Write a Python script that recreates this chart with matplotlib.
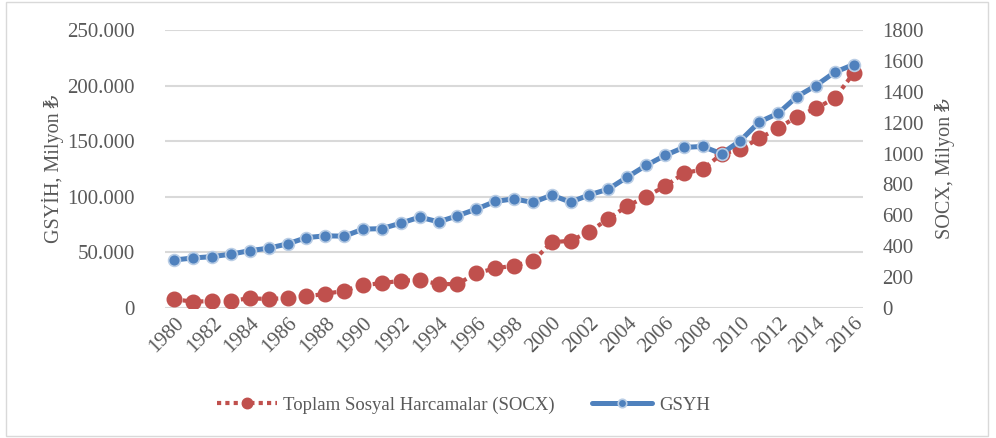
import numpy as np
import matplotlib.pyplot as plt
from matplotlib.patches import Rectangle
from matplotlib.ticker import FuncFormatter, MultipleLocator

plt.rcParams['font.family'] = ['Liberation Serif', 'DejaVu Serif', 'DejaVu Sans']

years = np.arange(1980, 2017)
gsyh = [43200, 45000, 46200, 48400, 51600, 53800, 57700, 63300, 64900, 64600,
        70900, 71400, 76300, 81700, 77500, 82900, 88900, 95800, 98200, 94900,
        101500, 95200, 101800, 106900, 117700, 128200, 137200, 144400, 145300, 138700,
        150500, 167300, 175000, 190100, 200000, 212000, 218900]
socx = [56, 41, 45, 47, 63, 58, 65, 76, 91, 112,
        149, 160, 177, 181, 155, 155, 225, 257, 274, 304,
        425, 436, 494, 578, 660, 721, 788, 872, 898, 997,
        1028, 1099, 1164, 1239, 1293, 1358, 1520]

red = '#c0504d'
blue = '#4f81bd'
gray = '#595959'

fig = plt.figure(figsize=(9.96, 4.38), dpi=100)
pos = [165 / 996, 1 - 308 / 438, 698 / 996, 278 / 438]
ax = fig.add_axes(pos)
ax2 = ax.twinx()
ax3 = fig.add_axes(pos, sharex=ax, sharey=ax)
ax3.axis('off')

l_red, = ax2.plot(years, socx, color=red, lw=3, linestyle=(0, (1, 1)),
                  marker='o', markersize=10.5, markerfacecolor=red, markeredgecolor=red,
                  label='Toplam Sosyal Harcamalar (SOCX)')
l_blue, = ax3.plot(years, gsyh, color=blue, lw=3.6, solid_capstyle='round',
                   marker='o', markersize=8.5, markerfacecolor=blue,
                   markeredgecolor='#b9cde5', markeredgewidth=1.2, label='GSYH')

ax.set_xlim(1979.5, 2016.5)
ax.set_ylim(0, 250000)
ax2.set_ylim(0, 1800)
ax.yaxis.set_major_locator(MultipleLocator(50000))
ax2.yaxis.set_major_locator(MultipleLocator(200))
ax.yaxis.set_major_formatter(FuncFormatter(lambda v, p: f'{int(v):,}'.replace(',', '.')))
ax.set_xticks(years[::2])
ax.set_xticklabels([str(y) for y in years[::2]], rotation=45, ha='right',
                   rotation_mode='anchor')

ax.grid(axis='y', color='#d9d9d9', lw=1.5)
for a in (ax, ax2):
    for s in a.spines.values():
        s.set_visible(False)
    a.tick_params(length=0, labelsize=15, labelcolor=gray)
ax.tick_params(axis='y', pad=22)
ax2.tick_params(axis='y', pad=14)
ax.tick_params(axis='x', pad=4)

ax.set_ylabel('GSYİH, Milyon ₺', fontsize=14.5, color=gray, labelpad=2)
ax2.set_ylabel('SOCX, Milyon ₺', fontsize=14.5, color=gray, rotation=90, labelpad=8)

fig.legend(handles=[l_red, l_blue], loc='center', bbox_to_anchor=(0.465, 0.075),
           ncol=2, frameon=False, fontsize=13.5, labelcolor=gray,
           handlelength=3.2, handletextpad=0.35, columnspacing=2.0, markerscale=0.72)

fig.patches.append(Rectangle((0.006, 0.005), 0.986, 0.99, transform=fig.transFigure,
                             fill=False, edgecolor='#d9d9d9', lw=1))

fig.savefig('out.png', dpi=100)
